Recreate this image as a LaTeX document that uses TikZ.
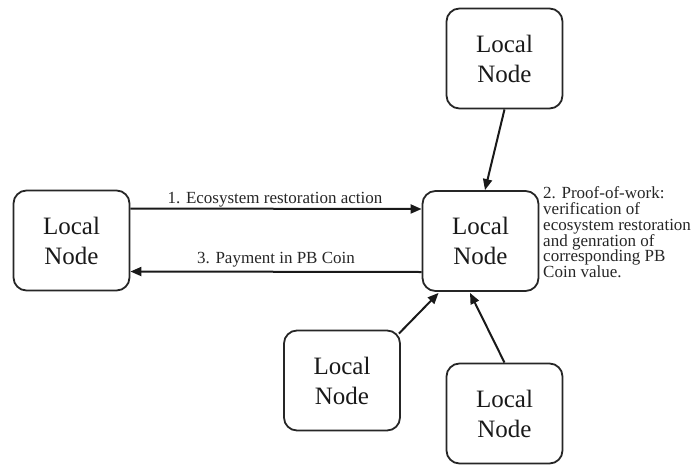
\documentclass[tikz,border=0pt]{standalone}
\usepackage{fontspec}
\setmainfont{Liberation Serif}
\usetikzlibrary{arrows.meta}
\begin{document}
\begin{tikzpicture}[x=1pt,y=-1pt,
  localnode/.style={draw=black!85, line width=1.8pt, rounded corners=13pt,
    minimum width=116pt, minimum height=100pt, inner sep=0pt, align=center,
    font=\fontsize{25}{30}\selectfont, text=black!90},
  flow/.style={line width=2pt, draw=black!90,
    -{Triangle[length=11pt,width=9pt]}},
  lbl/.style={font=\fontsize{17}{15.8}\selectfont, text=black!85, inner sep=0pt}]
\useasboundingbox (0,0) rectangle (697,464);
\node[localnode] (top) at (504.5,58.5) {Local\\Node};
\node[localnode] (ctr) at (480.5,241) {Local\\Node};
\node[localnode] (left) at (71.5,240.5) {Local\\Node};
\node[localnode] (bl) at (342,380.5) {Local\\Node};
\node[localnode] (br) at (504.5,413.5) {Local\\Node};
\draw[flow] ([yshift=32pt]left.east) -- ([yshift=32pt]ctr.west);
\draw[flow] ([yshift=-31pt]ctr.west) -- ([yshift=-31pt]left.east);
\draw[flow] (top.south) -- ([xshift=4.5pt]ctr.north);
\draw[flow] ([xshift=-2pt,yshift=-4pt]bl.north east) -- ([xshift=17pt,yshift=-1pt]ctr.south west);
\draw[flow] (br.north) -- ([xshift=-10.5pt,yshift=-1pt]ctr.south);
\node[lbl, anchor=base] (l1) at (275,203) {1. Ecosystem restoration action};
\node[lbl, anchor=base] (l3) at (276,263) {3. Payment in PB Coin};
\node[lbl, anchor=north west, align=left] (l2) at (543,186.5)
  {2. Proof-of-work:\\verification of\\ecosystem restoration\\and genration of\\corresponding PB\\Coin value.};
\end{tikzpicture}
\end{document}
